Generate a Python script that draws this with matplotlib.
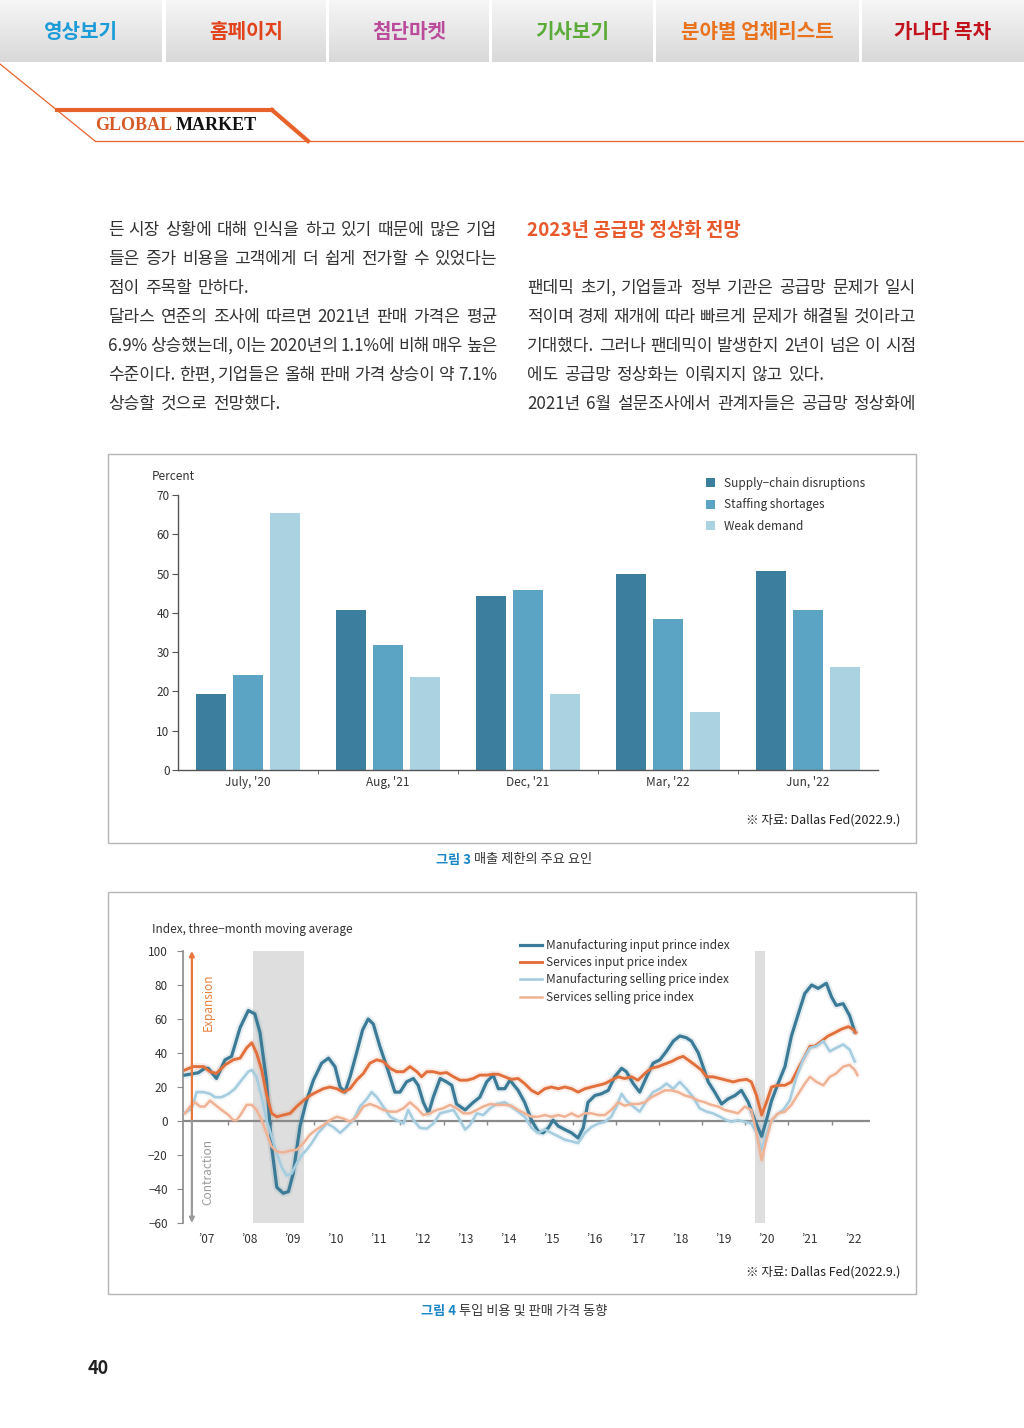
import numpy as np
import matplotlib
matplotlib.use("Agg")
import matplotlib.pyplot as plt
from matplotlib.patches import Rectangle

plt.rcParams['font.family'] = ['Noto Sans CJK KR', 'DejaVu Sans']

# ---- chart 1 data (percent of respondents) ----
periods = ["July, '20", "Aug, '21", "Dec, '21", "Mar, '22", "Jun, '22"]
supply_chain = [19.3, 40.7, 44.3, 49.9, 50.6]
staffing = [24.2, 31.8, 45.8, 38.4, 40.7]
weak_demand = [65.4, 23.7, 19.3, 14.8, 26.2]
bar_labels = ["Supply\u2212chain disruptions", "Staffing shortages", "Weak demand"]

# ---- chart 2 data (index, 3-month moving average) ----
mfg_input_t = [2007.00, 2007.31, 2007.46, 2007.54, 2007.73, 2007.93, 2008.08, 2008.28, 2008.47, 2008.62,
               2008.74, 2008.89, 2009.01, 2009.13, 2009.28, 2009.40, 2009.51, 2009.67, 2009.82, 2009.98,
               2010.17, 2010.33, 2010.48, 2010.60, 2010.71, 2010.83, 2010.98, 2011.12, 2011.25, 2011.37,
               2011.52, 2011.72, 2011.87, 2011.99, 2012.14, 2012.30, 2012.41, 2012.53, 2012.65, 2012.76,
               2012.92, 2013.07, 2013.19, 2013.30, 2013.50, 2013.69, 2013.84, 2014.00, 2014.15, 2014.27,
               2014.42, 2014.54, 2014.73, 2014.88, 2015.04, 2015.19, 2015.31, 2015.43, 2015.54, 2015.66,
               2015.81, 2015.97, 2016.12, 2016.24, 2016.35, 2016.51, 2016.66, 2016.82, 2016.97, 2017.13,
               2017.24, 2017.40, 2017.55, 2017.71, 2017.86, 2018.02, 2018.17, 2018.33, 2018.48, 2018.63,
               2018.75, 2018.91, 2019.02, 2019.14, 2019.29, 2019.45, 2019.60, 2019.76, 2019.91, 2020.07,
               2020.22, 2020.38, 2020.49, 2020.61, 2020.76, 2020.92, 2021.07, 2021.23, 2021.38, 2021.54,
               2021.69, 2021.88, 2022.00, 2022.11, 2022.27, 2022.42, 2022.54]
mfg_input_v = [27, 28.4, 31, 31, 25, 36, 38, 55, 65, 63,
               52, 24, -15, -39, -42.5, -41.5, -31, -3, 12, 24,
               34, 37, 32, 20, 17, 26, 40, 53.5, 60, 57,
               44, 29, 17, 17, 23, 25, 21, 11, 4.5, 14,
               25, 23, 21, 10, 6.5, 11, 14, 23, 27, 19,
               19, 24, 18, 11, 0.5, -6, -7, -4, 0.5, -3,
               -5, -7, -10, -4, 11, 15, 16, 18, 26, 31,
               29, 22, 17, 26, 34, 36, 41, 47, 50, 49,
               47, 40, 32, 23, 17, 10, 13, 15, 18, 11,
               0.5, -9, 0.5, 12, 22, 32, 50, 63, 75, 80,
               78, 81, 73, 68, 69, 62, 52.5]

svc_input_t = [2007.00, 2007.19, 2007.43, 2007.58, 2007.73, 2007.93, 2008.12, 2008.28, 2008.43, 2008.55,
               2008.66, 2008.78, 2008.89, 2009.01, 2009.13, 2009.28, 2009.44, 2009.59, 2009.75, 2009.90,
               2010.05, 2010.21, 2010.36, 2010.52, 2010.67, 2010.83, 2010.98, 2011.14, 2011.29, 2011.45,
               2011.60, 2011.76, 2011.91, 2012.07, 2012.22, 2012.38, 2012.49, 2012.61, 2012.76, 2012.92,
               2013.07, 2013.23, 2013.38, 2013.54, 2013.69, 2013.84, 2014.00, 2014.15, 2014.27, 2014.42,
               2014.57, 2014.73, 2014.88, 2015.04, 2015.19, 2015.35, 2015.50, 2015.66, 2015.81, 2015.97,
               2016.12, 2016.28, 2016.43, 2016.59, 2016.74, 2016.89, 2017.05, 2017.20, 2017.36, 2017.51,
               2017.67, 2017.82, 2017.98, 2018.13, 2018.29, 2018.44, 2018.56, 2018.67, 2018.83, 2018.98,
               2019.10, 2019.25, 2019.41, 2019.56, 2019.72, 2019.87, 2020.03, 2020.14, 2020.26, 2020.38,
               2020.49, 2020.61, 2020.76, 2020.92, 2021.07, 2021.23, 2021.38, 2021.50, 2021.61, 2021.77,
               2021.92, 2022.08, 2022.23, 2022.39, 2022.50, 2022.56]
svc_input_v = [30, 32, 32, 29, 28, 33, 36, 37, 43, 46,
               40, 30, 16, 4.5, 2.5, 3.5, 4.5, 8.5, 12, 15,
               17, 19, 20, 19, 17, 19, 24, 28, 34, 36,
               35, 31, 29, 29, 32, 29, 26, 29, 29, 28,
               28.5, 26, 24, 24, 25, 27, 27, 27.5, 27.5, 26,
               24.5, 25, 22, 18, 16, 19, 20, 19, 20, 19,
               17, 19, 20, 21, 22, 24, 26, 25, 26, 24,
               28, 31, 32, 33.5, 35, 37, 38, 36, 33, 30,
               26, 26, 25, 24, 23, 24, 24.5, 23, 15, 3.5,
               11, 20, 21, 21, 23, 31, 38, 44, 44, 47,
               50, 52, 54, 55.5, 54, 52]

mfg_sell_t = [2007.00, 2007.15, 2007.27, 2007.43, 2007.58, 2007.70, 2007.85, 2008.01, 2008.16, 2008.31,
              2008.47, 2008.55, 2008.66, 2008.78, 2008.89, 2009.01, 2009.13, 2009.24, 2009.36, 2009.47,
              2009.59, 2009.71, 2009.82, 2009.94, 2010.09, 2010.29, 2010.44, 2010.60, 2010.75, 2010.91,
              2011.06, 2011.22, 2011.33, 2011.45, 2011.60, 2011.76, 2011.91, 2012.07, 2012.18, 2012.30,
              2012.45, 2012.61, 2012.76, 2012.92, 2013.07, 2013.23, 2013.38, 2013.50, 2013.61, 2013.77,
              2013.92, 2014.08, 2014.23, 2014.42, 2014.57, 2014.73, 2014.88, 2015.04, 2015.19, 2015.35,
              2015.50, 2015.66, 2015.81, 2015.97, 2016.12, 2016.28, 2016.43, 2016.59, 2016.74, 2016.89,
              2017.01, 2017.13, 2017.24, 2017.40, 2017.55, 2017.71, 2017.86, 2018.02, 2018.17, 2018.33,
              2018.48, 2018.63, 2018.79, 2018.94, 2019.10, 2019.25, 2019.41, 2019.56, 2019.68, 2019.83,
              2019.99, 2020.14, 2020.26, 2020.38, 2020.45, 2020.57, 2020.72, 2020.88, 2021.03, 2021.19,
              2021.34, 2021.50, 2021.65, 2021.81, 2021.96, 2022.11, 2022.27, 2022.42, 2022.54]
mfg_sell_v = [5, 7, 17, 17, 16, 14, 14, 16, 19, 24,
              29, 30, 26, 14, 0.5, -9, -19, -27, -32, -31,
              -25, -20, -17, -13, -7, -1.5, -3.5, -7, -3.5, 0.5,
              8.5, 13, 17, 14, 8.5, 2.5, 0.5, -1.5, 6.5, 0.5,
              -4, -4.5, -1.5, 4.5, 5.5, 6.5, 0.5, -5, -2.5, 4.5,
              3.5, 7.5, 10, 11, 8.5, 5.5, 2.5, -4, -7, -5,
              -7, -9, -11, -12, -13, -7, -3.5, -1.5, -0.5, 2.5,
              8.5, 16, 12, 8.5, 5.5, 12, 17, 19, 22, 19,
              23, 19, 14, 7.5, 5.5, 4.5, 2.5, 0.5, -0.5, 0.5,
              -0.5, -1.5, -7, -17, -11, -1.5, 3.5, 6.5, 12, 26,
              36, 43, 44, 47, 41, 43, 45, 42, 35]

svc_sell_t = [2007.00, 2007.12, 2007.23, 2007.35, 2007.46, 2007.58, 2007.70, 2007.85, 2008.01, 2008.12,
              2008.20, 2008.31, 2008.43, 2008.55, 2008.66, 2008.78, 2008.89, 2009.01, 2009.13, 2009.28,
              2009.44, 2009.59, 2009.75, 2009.90, 2010.05, 2010.21, 2010.36, 2010.52, 2010.67, 2010.83,
              2010.98, 2011.14, 2011.29, 2011.45, 2011.60, 2011.76, 2011.91, 2012.07, 2012.22, 2012.38,
              2012.53, 2012.68, 2012.84, 2012.99, 2013.15, 2013.30, 2013.46, 2013.61, 2013.77, 2013.92,
              2014.08, 2014.23, 2014.42, 2014.57, 2014.73, 2014.88, 2015.04, 2015.19, 2015.35, 2015.50,
              2015.66, 2015.81, 2015.97, 2016.12, 2016.28, 2016.43, 2016.59, 2016.74, 2016.89, 2017.05,
              2017.20, 2017.36, 2017.51, 2017.67, 2017.82, 2017.98, 2018.13, 2018.29, 2018.44, 2018.60,
              2018.75, 2018.91, 2019.06, 2019.21, 2019.37, 2019.52, 2019.68, 2019.83, 2019.99, 2020.14,
              2020.26, 2020.38, 2020.49, 2020.61, 2020.76, 2020.92, 2021.07, 2021.23, 2021.38, 2021.50,
              2021.65, 2021.81, 2021.96, 2022.11, 2022.27, 2022.42, 2022.54, 2022.60]
svc_sell_v = [4.5, 8.5, 11, 8.5, 8.5, 12, 9.5, 6.5, 3.5, 0.5,
              0.5, 4.5, 9.5, 9.5, 6.5, 0.5, -7, -15, -18, -18.5,
              -17.5, -17, -13, -8, -5, -2.5, 0.5, 2.5, 1.5, -0.5,
              2.5, 8.5, 10, 8.5, 6.5, 5.5, 5.5, 7.5, 11, 7.5,
              3.5, 4.5, 6.5, 7.5, 9.5, 7.5, 4.5, 4.5, 6.5, 8.5,
              10, 9.5, 9.5, 9, 6.5, 4.5, 2.5, 2.5, 3.5, 2.5,
              3.5, 2.5, 4.5, 2.5, 4.5, 4.5, 3.5, 3.5, 6.5, 11,
              9, 10, 10, 11, 14, 16, 18, 18, 17, 15,
              14, 12, 11, 9.5, 8.5, 6.5, 5.5, 4.5, 8.5, 6.5,
              -7, -23, -11, 0.5, 4.5, 5.5, 9.5, 16, 22, 26,
              23, 21, 26, 28, 32, 33, 30, 27]

line_labels = ["Manufacturing input prince index", "Services input price index",
               "Manufacturing selling price index", "Services selling price index"]
years = list(range(2007, 2023))
recessions = [(2008.58, 2009.76), (2020.22, 2020.45)]

W, H = 1024, 1428
fig = plt.figure(figsize=(W / 100, H / 100), dpi=100)
page = fig.add_axes([0, 0, 1, 1], zorder=0)
page.set_xlim(0, W)
page.set_ylim(H, 0)
page.axis('off')


def px_rect(x, y, w, h):
    return [x / W, 1 - (y + h) / H, w / W, h / H]


txt = '#333333'

# ---- nav bar ----
grad = np.linspace(0, 1, 60)[:, None]
top = np.array([0.965, 0.965, 0.965])
bot = np.array([0.85, 0.85, 0.85])
img = (top + (bot - top) * grad[:, :, None] * np.ones((1, 2, 1)))
nav = [(0, 162, '영상보기', '#1b9bd7'), (166, 326, '홈페이지', '#e2421c'),
       (329, 489, '첨단마켓', '#bb4c9c'), (492, 653, '기사보기', '#5aab38'),
       (656, 859, '분야별 업체리스트', '#ea721c'), (862, 1024, '가나다 목차', '#c2121c')]
for x0, x1, label, col in nav:
    page.imshow(img, extent=[x0, x1, 62, 0], aspect='auto', zorder=1)
    page.text((x0 + x1) / 2, 31, label, ha='center', va='center', fontsize=14.5,
              fontweight='bold', color=col, zorder=2)
page.set_xlim(0, W)
page.set_ylim(H, 0)

# ---- GLOBAL MARKET header ----
orange = '#e8622c'
page.plot([0, 95], [64, 141], color=orange, lw=0.9)
page.plot([95, 1024], [141, 141], color=orange, lw=0.9)
page.plot([57, 272], [110, 110], color=orange, lw=3)
page.plot([272, 308], [110, 141], color=orange, lw=3)
g = page.text(95, 126, 'GLOBAL', fontsize=13, fontweight='bold', color='#d55a26',
              family='Liberation Serif', va='center', ha='left')
fig.canvas.draw()
r = fig.canvas.get_renderer()
gw = g.get_window_extent(r).width
page.text(95 + gw + 4, 126, 'MARKET', fontsize=13, fontweight='bold', color='#111111',
          family='Liberation Serif', va='center', ha='left')


def justify(line, x0, x1, y, last=False):
    words = line.split(' ')
    items = [page.text(x0, y, w, fontsize=12.2, color=txt, va='center', ha='left') for w in words]
    widths = [t.get_window_extent(r).width for t in items]
    if last or len(words) == 1:
        gap = 5.5
    else:
        gap = (x1 - x0 - sum(widths)) / (len(words) - 1)
    x = x0
    for t, w in zip(items, widths):
        t.set_x(x)
        x += w + gap


left_lines = ["든 시장 상황에 대해 인식을 하고 있기 때문에 많은 기업",
              "들은 증가 비용을 고객에게 더 쉽게 전가할 수 있었다는",
              "점이 주목할 만하다.",
              "달라스 연준의 조사에 따르면 2021년 판매 가격은 평균",
              "6.9% 상승했는데, 이는 2020년의 1.1%에 비해 매우 높은",
              "수준이다. 한편, 기업들은 올해 판매 가격 상승이 약 7.1%",
              "상승할 것으로 전망했다."]
left_last = [False, False, True, False, False, False, True]
for i, (ln, lst) in enumerate(zip(left_lines, left_last)):
    justify(ln, 108, 497, 230 + 29 * i, lst)

page.text(527, 230, '2023년 공급망 정상화 전망', fontsize=13.6, fontweight='bold',
          color='#e8582a', va='center', ha='left')
right_lines = ["팬데믹 초기, 기업들과 정부 기관은 공급망 문제가 일시",
               "적이며 경제 재개에 따라 빠르게 문제가 해결될 것이라고",
               "기대했다. 그러나 팬데믹이 발생한지 2년이 넘은 이 시점",
               "에도 공급망 정상화는 이뤄지지 않고 있다.",
               "2021년 6월 설문조사에서 관계자들은 공급망 정상화에"]
right_last = [False, False, False, True, False]
for i, (ln, lst) in enumerate(zip(right_lines, right_last)):
    justify(ln, 527, 916, 288 + 29 * i, lst)

# ---- panels ----
page.add_patch(Rectangle((108, 454), 808, 389, fill=False, ec='#b5b5b5', lw=1))
page.add_patch(Rectangle((108, 892), 808, 402, fill=False, ec='#b5b5b5', lw=1))


def caption(x, y, num, rest):
    a = page.text(x, y, num, fontsize=9.5, fontweight='bold',
                  color='#1a86c6', va='center', ha='left')
    aw = a.get_window_extent(r).width
    page.text(x + aw + 3, y, rest, fontsize=9.5, color='#333333',
              va='center', ha='left')


caption(436, 860, '그림 3', '매출 제한의 주요 요인')
caption(421, 1311, '그림 4', '투입 비용 및 판매 가격 동향')
for y in (820, 1272):
    page.text(900, y, '※ 자료: Dallas Fed(2022.9.)', fontsize=9, color='#222222',
              ha='right', va='center')
page.text(88, 1368, '40', fontsize=13, fontweight='bold', color='#222222', va='center', ha='left')

# ---- chart 1: bars ----
ax1 = fig.add_axes(px_rect(178, 495, 700, 275), zorder=2)
ax1.patch.set_alpha(0)
x = np.arange(len(periods))
bw, off = 0.214, 0.264
cols = ['#3c7e9d', '#5ba4c4', '#abd2e1']
for k, (vals, c, lab) in enumerate(zip([supply_chain, staffing, weak_demand], cols, bar_labels)):
    ax1.bar(x + (k - 1) * off, vals, bw, color=c, label=lab)
ax1.set_xlim(-0.5, len(periods) - 0.5)
ax1.set_ylim(0, 70)
for s in ('top', 'right'):
    ax1.spines[s].set_visible(False)
for s in ('left', 'bottom'):
    ax1.spines[s].set_color('#555555')
    ax1.spines[s].set_linewidth(1)
ax1.set_yticks(range(0, 71, 10))
ax1.tick_params(axis='y', length=4, color='#555555', labelsize=8.5, labelcolor=txt, pad=2)
ax1.set_xticks(x)
ax1.set_xticklabels(periods)
ax1.tick_params(axis='x', length=0, labelsize=8.5, labelcolor=txt, pad=4)
ax1.set_xticks(x[:-1] + 0.5, minor=True)
ax1.tick_params(axis='x', which='minor', length=3, color='#555555')
page.text(152, 476, 'Percent', fontsize=8.5, color=txt, va='center', ha='left')
ax1.legend(loc='upper left', bbox_to_anchor=(706 / W, 1 - 477 / H), bbox_transform=fig.transFigure,
           frameon=False, fontsize=8.5, handlelength=0.8, handleheight=0.8, labelspacing=0.72,
           handletextpad=0.7, borderpad=0, borderaxespad=0, labelcolor=txt)

# ---- chart 2: lines ----
ax2 = fig.add_axes(px_rect(183, 951, 687, 272), zorder=2)
ax2.patch.set_alpha(0)
ax2.set_xlim(2006.954, 2022.893)
ax2.set_ylim(-60, 100)
for a, b in recessions:
    ax2.axvspan(a, b, color='#dedede', lw=0, zorder=0)
ax2.axhline(0, color='#8a8a8a', lw=1.6, zorder=1)
ax2.vlines(years[1:], -2.5, 0, color='#8a8a8a', lw=1, zorder=1)
series = [(mfg_input_t, mfg_input_v, '#3b7b97', 2.3),
          (svc_input_t, svc_input_v, '#e2703c', 2.1),
          (mfg_sell_t, mfg_sell_v, '#a5cddf', 1.9),
          (svc_sell_t, svc_sell_v, '#f0b294', 1.8)]
for (t, v, c, lw), lab in zip(series, line_labels):
    ax2.plot(t, v, color=c, lw=lw + 3, alpha=0.12, zorder=2, solid_capstyle='round')
for (t, v, c, lw), lab in zip(series, line_labels):
    ax2.plot(t, v, color=c, lw=lw, zorder=3, label=lab, solid_joinstyle='round')
for s in ('top', 'right', 'bottom'):
    ax2.spines[s].set_visible(False)
ax2.spines['left'].set_color('#8a8a8a')
ax2.spines['left'].set_linewidth(1.2)
ax2.set_yticks(range(-60, 101, 20))
ax2.tick_params(axis='y', length=4, color='#8a8a8a', labelsize=8.5, labelcolor=txt, pad=7)
ax2.set_xticks([yr + 0.5 for yr in years])
ax2.set_xticklabels(["\u2019" + str(yr)[2:] for yr in years])
ax2.tick_params(axis='x', length=0, labelsize=8.5, labelcolor=txt, pad=7)
ax2.annotate('', xy=(2007.16, 100), xytext=(2007.16, 0),
             arrowprops=dict(arrowstyle='-|>', color='#e8773c', lw=1.6, mutation_scale=7,
                             shrinkA=0, shrinkB=0))
ax2.annotate('', xy=(2007.16, -60), xytext=(2007.16, 0),
             arrowprops=dict(arrowstyle='-|>', color='#9a9a9a', lw=1.6, mutation_scale=7,
                             shrinkA=0, shrinkB=0))
ax2.text(2007.53, 70, 'Expansion', rotation=90, color='#e8803c', fontsize=8.5, va='center', ha='center')
ax2.text(2007.53, -30, 'Contraction', rotation=90, color='#9a9a9a', fontsize=8.5, va='center', ha='center')
page.text(152, 930, 'Index, three\u2212month moving average', fontsize=8.5, color=txt, va='center', ha='left')
ax2.legend(loc='upper left', bbox_to_anchor=(520 / W, 1 - 939 / H), bbox_transform=fig.transFigure,
           frameon=False, fontsize=8.5, handlelength=1.9, labelspacing=0.36, handletextpad=0.3,
           borderpad=0, borderaxespad=0, labelcolor=txt)

fig.savefig('out.png', dpi=100, facecolor='white')
